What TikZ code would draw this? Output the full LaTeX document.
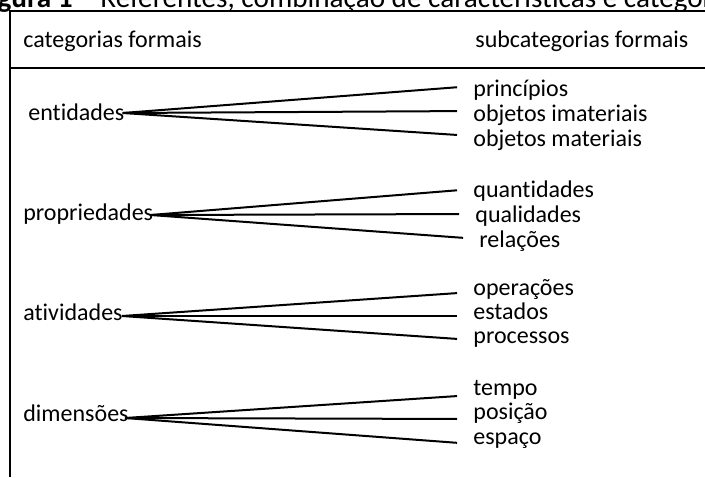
\documentclass[tikz,border=0pt]{standalone}
\usepackage{fontspec}
\setmainfont{Carlito}[Ligatures=NoCommon]
\begin{document}
\begin{tikzpicture}[x=.5pt,y=-.5pt,
		cat/.style={anchor=base west,inner sep=0pt,font=\fontsize{12}{14}\selectfont},
		sub/.style={anchor=base west,inner sep=0pt,font=\fontsize{12}{14}\selectfont},
		fan/.style={black,line width=1pt,shorten >=8pt}]
	\useasboundingbox (0,0) rectangle (705,477);
	\clip (0,0) rectangle (705,477);
	% caption, cut off at the top
	\node[anchor=base west,inner sep=0pt,font=\fontsize{14.6}{17}\selectfont] (caption) at (100,7)
		{\llap{\textbf{Figura 1} – }Referentes, combinação de características e categorias};
	% frame
	\draw[line width=.8pt] (705,11) -- (10,11) -- (10,477);
	\draw[line width=.8pt] (10,68) -- (705,68);
	\node[cat] (hcat) at (23,47) {categorias formais};
	\node[sub] (hsub) at (475,47) {subcategorias formais};
	% entidades
	\node[cat] (ent) at (28,120) {entidades};
	\node[sub] (ent1) at (473,96) {princípios};
	\node[sub] (ent2) at (473,121) {objetos imateriais};
	\node[sub] (ent3) at (473,146) {objetos materiais};
	\foreach \s in {ent1,ent2,ent3}
		\draw[fan] ([shift={(-1pt,3.5pt)}]ent.base east) -- ([yshift=5pt]\s.base west);
	% propriedades
	\node[cat] (prop) at (23,220) {propriedades};
	\node[sub] (prop1) at (473,197) {quantidades};
	\node[sub] (prop2) at (475,222) {qualidades};
	\node[sub] (prop3) at (479,247) {relações};
	\foreach \s in {prop1,prop2,prop3}
		\draw[fan] ([shift={(-1.5pt,2.5pt)}]prop.base east) -- ([yshift=4pt]\s.base west);
	% atividades
	\node[cat] (ativ) at (23,320) {atividades};
	\node[sub] (ativ1) at (473,295) {operações};
	\node[sub] (ativ2) at (473,319) {estados};
	\node[sub] (ativ3) at (473,343) {processos};
	\foreach \s in {ativ1,ativ2,ativ3}
		\draw[fan] ([shift={(-.5pt,2pt)}]ativ.base east) -- ([yshift=1.5pt]\s.base west);
	% dimensoes
	\node[cat] (dim) at (23,421) {dimensões};
	\node[sub] (dim1) at (473,395) {tempo};
	\node[sub] (dim2) at (473,419) {posição};
	\node[sub] (dim3) at (473,444) {espaço};
	\foreach \s in {dim1,dim2,dim3}
		\draw[fan] ([shift={(-2pt,1.5pt)}]dim.base east) -- ([yshift=0pt]\s.base west);
\end{tikzpicture}
\end{document}
